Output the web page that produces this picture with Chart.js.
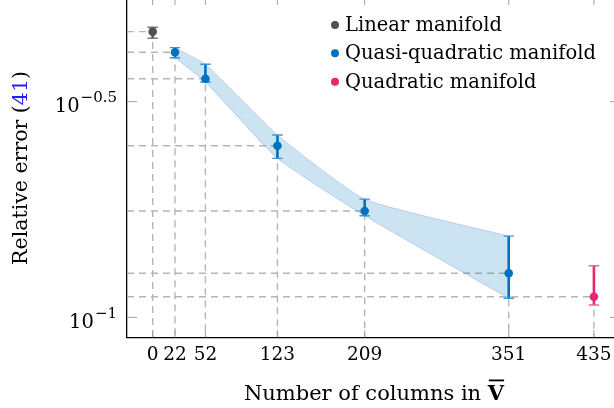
<!DOCTYPE html>
<html>
<head>
<meta charset="utf-8">
<script src="https://cdn.jsdelivr.net/npm/chart.js@4.4.1/dist/chart.umd.min.js"></script>
<style>
  html, body { margin: 0; padding: 0; background: #fff; }
  #frame { position: relative; width: 614px; height: 408px; overflow: hidden; }
  /* the axis box runs a little past the top and right edge, as in the figure */
  #box { position: absolute; left: 0; top: -3px; width: 624px; height: 411px; }
</style>
</head>
<body>
<div id="frame"><div id="box"><canvas id="chart"></canvas></div></div>
<script>
/* ---------- Datos ---------- */
const columns = [0, 22, 52, 123, 209, 351, 435];          // x tick labels

const linearX  = [0];
const linearY  = [0.4596];
const linearLo = [0.4437];
const linearHi = [0.4705];

const quasiX  = [22, 52, 123, 209, 351];
const quasiY  = [0.4117, 0.3575, 0.2500, 0.1764, 0.1265];
const quasiLo = [0.3999, 0.3513, 0.2337, 0.1720, 0.1107];
const quasiHi = [0.4219, 0.3862, 0.2647, 0.1880, 0.1543];

const quadX  = [435];
const quadY  = [0.1116];
const quadLo = [0.1068];
const quadHi = [0.1317];

const yTickExp    = [-1, -0.5];
const yTickLabels = ['\u22121', '\u22120.5'];

const labels = ['Linear manifold', 'Quasi-quadratic manifold', 'Quadratic manifold'];

/* ---------- Estilo ---------- */
const FONT = "'DejaVu Serif', serif";
const C = {
  gray: '#505050', grayCap: '#7a7a7a',
  blue: '#0072bd', blueCap: '#3f92d2',
  pink: '#e8286e', pinkCap: '#ef5f90',
  band: 'rgba(0,114,189,0.2)', bandEdge: 'rgba(120,150,225,0.35)',
  drop: '#b5b5b5', tick: '#a0a0a0', link: '#2222ee'
};
const X_MIN = -25.3, X_MAX = 460.7;
const Y_MIN = 0.0899, Y_MAX = 0.55;

const pts = (xs, ys) => xs.map((x, i) => ({ x, y: ys[i] }));

function pointSet(label, xs, ys, color) {
  return {
    label, data: pts(xs, ys), showLine: false,
    pointRadius: 4.3, pointHoverRadius: 4.3, borderWidth: 0,
    pointBackgroundColor: color, pointBorderColor: color
  };
}

function errorBars(xs, lo, hi, color, cap) {
  return xs.map((x, i) => ({
    data: [{ x, y: lo[i] }, { x, y: hi[i] }], showLine: true,
    borderColor: color, borderWidth: 2.6,
    pointStyle: 'line', pointRadius: 5.2, pointHoverRadius: 5.2,
    pointBorderColor: cap, pointBorderWidth: 1.4, pointBackgroundColor: cap
  }));
}

function dropLines(xs, ys) {
  return xs.map((x, i) => ({
    data: [{ x: X_MIN, y: ys[i] }, { x, y: ys[i] }, { x, y: Y_MIN }], showLine: true,
    borderColor: C.drop, borderWidth: 1.4, borderDash: [7, 5], pointRadius: 0
  }));
}

const datasets = [
  pointSet(labels[0], linearX, linearY, C.gray),
  pointSet(labels[1], quasiX, quasiY, C.blue),
  pointSet(labels[2], quadX, quadY, C.pink),
  ...errorBars(linearX, linearLo, linearHi, C.gray, C.grayCap),
  ...errorBars(quasiX, quasiLo, quasiHi, C.blue, C.blueCap),
  ...errorBars(quadX, quadLo, quadHi, C.pink, C.pinkCap),
  { data: pts(quasiX, quasiHi), showLine: true, fill: '+1', backgroundColor: C.band,
    borderColor: C.bandEdge, borderWidth: 1, pointRadius: 0, tension: 0.15 },
  { data: pts(quasiX, quasiLo), showLine: true, fill: false,
    borderColor: C.bandEdge, borderWidth: 1, pointRadius: 0, tension: 0.15 },
  ...dropLines(linearX, linearY),
  ...dropLines(quasiX, quasiY),
  ...dropLines(quadX, quadY)
];

/* ---------- Ticks, etiquetas, leyenda ---------- */
const decor = {
  id: 'decor',
  afterDraw(chart) {
    const { ctx, chartArea: a, scales: { x, y } } = chart;
    ctx.save();

    // tick marks (inside the box)
    ctx.strokeStyle = C.tick; ctx.lineWidth = 1;
    ctx.beginPath();
    columns.forEach(v => {
      const px = x.getPixelForValue(v);
      ctx.moveTo(px, a.bottom); ctx.lineTo(px, a.bottom - 7);
      ctx.moveTo(px, a.top);    ctx.lineTo(px, a.top + 7);
    });
    yTickExp.forEach(e => {
      const py = y.getPixelForValue(Math.pow(10, e));
      ctx.moveTo(a.left, py);  ctx.lineTo(a.left + 10, py);
      ctx.moveTo(a.right, py); ctx.lineTo(a.right - 10, py);
    });
    ctx.stroke();

    // x tick labels
    ctx.fillStyle = '#000';
    ctx.font = `18.5px ${FONT}`;
    ctx.textAlign = 'center'; ctx.textBaseline = 'middle';
    columns.forEach(v => ctx.fillText(String(v), x.getPixelForValue(v), a.bottom + 18));

    // y tick labels: 10^e
    ctx.textAlign = 'left'; ctx.textBaseline = 'alphabetic';
    yTickExp.forEach((e, i) => {
      const py = y.getPixelForValue(Math.pow(10, e));
      ctx.font = `15px ${FONT}`;
      const supW = ctx.measureText(yTickLabels[i]).width;
      ctx.font = `19.5px ${FONT}`;
      const baseW = ctx.measureText('10').width;
      const right = a.left - 10;
      ctx.fillText('10', right - supW - baseW - 1, py + 10.5);
      ctx.font = `15px ${FONT}`;
      ctx.fillText(yTickLabels[i], right - supW, py + 0.5);
    });

    // x axis title: Number of columns in V̄
    const TF = 21;
    ctx.font = `${TF}px ${FONT}`;
    const t1 = 'Number of columns in ';
    const w1 = ctx.measureText(t1).width;
    ctx.font = `bold ${TF}px ${FONT}`;
    const wV = ctx.measureText('V').width;
    const tx = 374 - (w1 + wV) / 2, ty = 403;
    ctx.font = `${TF}px ${FONT}`;
    ctx.fillText(t1, tx, ty);
    ctx.font = `bold ${TF}px ${FONT}`;
    ctx.fillText('V', tx + w1, ty);
    ctx.fillRect(tx + w1 + 1, ty - 20.5, wV - 1, 1.8);

    // y axis title: Relative error (41)
    ctx.save();
    ctx.translate(22, 171);
    ctx.rotate(-Math.PI / 2);
    ctx.font = `20.5px ${FONT}`;
    const parts = [['Relative error (', '#000'], ['41', C.link], [')', '#000']];
    const total = parts.reduce((s, p) => s + ctx.measureText(p[0]).width, 0);
    let cx = -total / 2;
    ctx.textBaseline = 'middle';
    parts.forEach(([s, col]) => { ctx.fillStyle = col; ctx.fillText(s, cx, 0); cx += ctx.measureText(s).width; });
    ctx.restore();

    // legend
    const colors = [C.gray, C.blue, C.pink];
    const rows = [28, 56.3, 84.7];
    ctx.font = `19.5px ${FONT}`;
    ctx.textBaseline = 'middle';
    labels.forEach((s, i) => {
      ctx.fillStyle = colors[i];
      ctx.beginPath(); ctx.arc(335, rows[i], 4, 0, Math.PI * 2); ctx.fill();
      ctx.fillStyle = '#000';
      ctx.fillText(s, 345, rows[i] + 1);
    });

    ctx.restore();
  }
};

new Chart(document.getElementById('chart'), {
  type: 'scatter',
  data: { datasets },
  options: {
    responsive: true, maintainAspectRatio: false, animation: false, events: [],
    layout: { autoPadding: false, padding: { left: 127, right: 4, top: 1, bottom: 70.7 } },
    plugins: { legend: { display: false }, tooltip: { enabled: false } },
    scales: {
      x: {
        type: 'linear', min: X_MIN, max: X_MAX,
        ticks: { display: false }, grid: { display: false, drawTicks: false },
        border: { display: true, color: '#000', width: 1.3 }
      },
      y: {
        type: 'logarithmic', min: Y_MIN, max: Y_MAX,
        ticks: { display: false }, grid: { display: false, drawTicks: false },
        border: { display: true, color: '#000', width: 1.3 }
      }
    }
  },
  plugins: [decor]
});
</script>
</body>
</html>
